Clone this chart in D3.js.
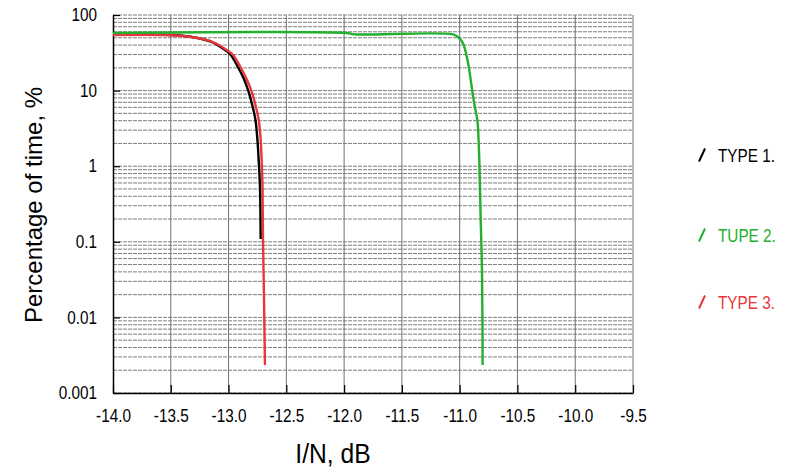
<!DOCTYPE html>
<html>
<head>
<meta charset="utf-8">
<script src="https://cdn.jsdelivr.net/npm/d3@7"></script>
<style>
  body { margin: 0; background: #fff; }
  svg text { font-family: "Liberation Sans", Arial, sans-serif; }
</style>
</head>
<body>
<div id="chart"></div>
<script>
// Axis ticks
const xTicks = [-14.0, -13.5, -13.0, -12.5, -12.0, -11.5, -11.0, -10.5, -10.0, -9.5];
const yTicks = [0.001, 0.01, 0.1, 1, 10, 100];

// Series (I/N in dB, percentage of time)
const type1X = [-14.0, -13.593, -13.42, -13.247, -13.135, -13.057, -12.988, -12.919, -12.867, -12.827, -12.793, -12.767, -12.75, -12.737, -12.728, -12.722];
const type1Y = [54.9, 54.9, 53.6, 48.9, 43.3, 36.6, 30.5, 20.5, 14.2, 9.67, 6.26, 4.08, 2.22, 1.04, 0.531, 0.109];

const type2X = [-14.0, -11.98, -11.915, -11.058, -11.015, -10.971, -10.945, -10.924, -10.896, -10.872, -10.847, -10.833, -10.818, -10.807, -10.801];
const type2Y = [57.8, 57.8, 55.5, 55.5, 51.2, 42.2, 31.1, 21.8, 11.3, 6.45, 4.08, 1.64, 0.194, 0.0424, 0.00235];

const type3X = [-14.0, -13.576, -13.394, -13.221, -13.108, -13.03, -12.961, -12.892, -12.84, -12.8, -12.765, -12.739, -12.722, -12.712, -12.706, -12.702, -12.693, -12.685];
const type3Y = [54.4, 54.4, 52.8, 48.1, 42.0, 35.5, 29.6, 19.9, 13.8, 9.67, 6.26, 4.08, 2.22, 1.04, 0.531, 0.109, 0.017, 0.00235];

const legendLabels = ['TYPE 1.', 'TUPE 2.', 'TYPE 3.'];
const seriesColors = ['#000000', '#22b02e', '#e8363b'];

const width = 787;
const height = 473;

const svg = d3.select('#chart')
  .append('svg')
  .attr('width', width)
  .attr('height', height);

const x = d3.scaleLinear().domain([-14, -9.5]).range([113, 633]);
const y = d3.scaleLog().domain([0.001, 100]).range([393, 15]);

// squeeze text horizontally, the source font is a narrow one
function narrow(sel, k) {
  sel.each(function() {
    const w = this.getComputedTextLength();
    d3.select(this)
      .attr('textLength', w * k)
      .attr('lengthAdjust', 'spacingAndGlyphs');
  });
}

// Horizontal grid: every minor step of each decade
const minorY = [];
for (let e = -3; e < 2; e++) {
  for (let m = 1; m <= 9; m++) minorY.push(m * Math.pow(10, e));
}
minorY.push(100);

svg.append('g')
  .selectAll('line')
  .data(minorY)
  .enter().append('line')
  .attr('x1', x(-14)).attr('x2', x(-9.5))
  .attr('y1', d => y(d)).attr('y2', d => y(d))
  .attr('stroke', '#707070')
  .attr('stroke-width', 0.9)
  .attr('stroke-dasharray', '4,1');

// Vertical grid
svg.append('g')
  .selectAll('line')
  .data(xTicks.slice(1))
  .enter().append('line')
  .attr('x1', d => x(d)).attr('x2', d => x(d))
  .attr('y1', y(100)).attr('y2', y(0.001))
  .attr('stroke', '#707070')
  .attr('stroke-width', 1);

// Bottom axis
const xAxis = d3.axisBottom(x)
  .tickValues(xTicks)
  .tickSizeInner(-8)
  .tickSizeOuter(0)
  .tickPadding(16)
  .tickFormat(d => d3.format('.1f')(d).replace('−', '-'));

const gx = svg.append('g')
  .attr('transform', `translate(0,${y(0.001)})`)
  .call(xAxis);
gx.select('.domain').attr('stroke', '#000').attr('stroke-width', 1.5);
gx.selectAll('.tick line').attr('stroke', '#000').attr('stroke-width', 1.2);
gx.selectAll('.tick text')
  .attr('font-size', 18)
  .attr('font-family', '"Liberation Sans", Arial, sans-serif')
  .attr('fill', '#000')
  .call(narrow, 0.85);

// Left axis
const yAxis = d3.axisLeft(y)
  .tickValues(yTicks)
  .tickSizeInner(-7)
  .tickSizeOuter(0)
  .tickPadding(16)
  .tickFormat(d => String(d));

const gy = svg.append('g')
  .attr('transform', `translate(${x(-14)},0)`)
  .call(yAxis);
gy.select('.domain').attr('stroke', '#000').attr('stroke-width', 1.5);
gy.selectAll('.tick line').attr('stroke', '#000').attr('stroke-width', 1.2);
gy.selectAll('.tick text')
  .attr('font-size', 18)
  .attr('font-family', '"Liberation Sans", Arial, sans-serif')
  .attr('fill', '#000')
  .call(narrow, 0.85);

// Curves
const seriesX = [type1X, type2X, type3X];
const seriesY = [type1Y, type2Y, type3Y];
const line = d3.line()
  .x(d => x(d[0]))
  .y(d => y(d[1]))
  .curve(d3.curveCatmullRom.alpha(0.5));

[0, 2, 1].forEach(i => {
  const pts = seriesX[i].map((v, k) => [v, seriesY[i][k]]);
  svg.append('path')
    .datum(pts)
    .attr('d', line)
    .attr('fill', 'none')
    .attr('stroke', seriesColors[i])
    .attr('stroke-width', 2.4)
    .attr('stroke-linejoin', 'round');
});

// Legend
const legendY = [155, 235, 302];
const legend = svg.append('g')
  .selectAll('g')
  .data(legendLabels)
  .enter().append('g')
  .attr('transform', (d, i) => `translate(0,${legendY[i]})`);

legend.append('line')
  .attr('x1', 699).attr('y1', 6.5)
  .attr('x2', 705).attr('y2', -6.5)
  .attr('stroke', (d, i) => seriesColors[i])
  .attr('stroke-width', 2);

legend.append('text')
  .attr('x', 718)
  .attr('y', 6.5)
  .attr('font-size', 18)
  .attr('fill', (d, i) => seriesColors[i])
  .text(d => d)
  .call(narrow, 0.85);

// Axis titles
svg.append('text')
  .attr('x', 333)
  .attr('y', 463)
  .attr('text-anchor', 'middle')
  .attr('font-size', 28)
  .attr('fill', '#000')
  .text('I/N, dB')
  .call(narrow, 0.88);

svg.append('text')
  .attr('transform', 'translate(42,205) rotate(-90)')
  .attr('text-anchor', 'middle')
  .attr('font-size', 24)
  .attr('fill', '#000')
  .text('Percentage of time, %');
</script>
</body>
</html>
